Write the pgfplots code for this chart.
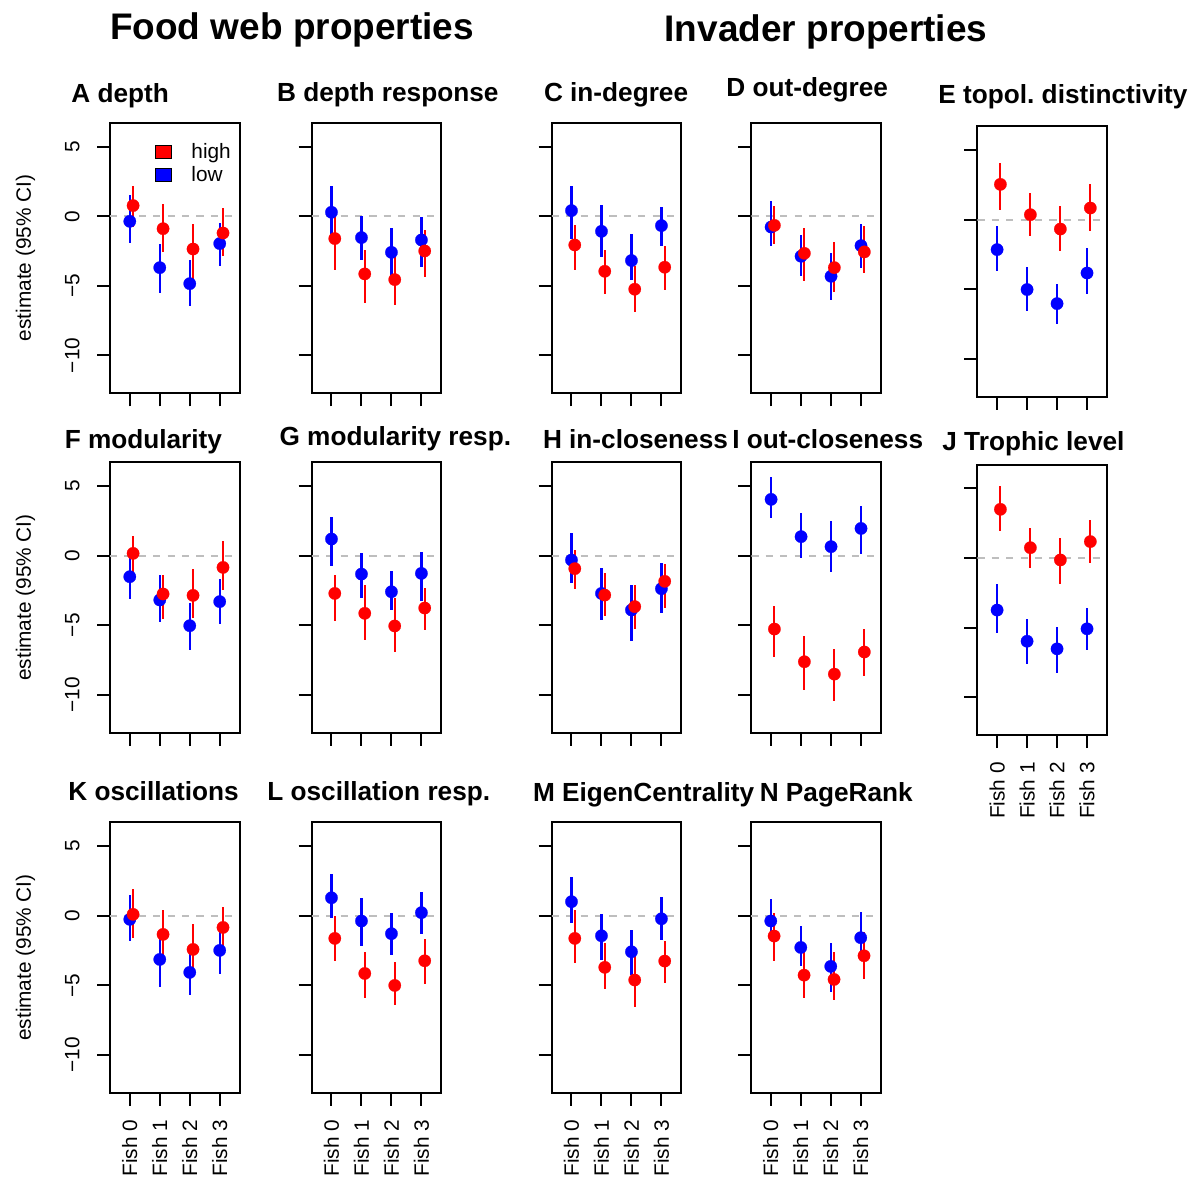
\documentclass[border=0pt]{standalone}
\usepackage{fontspec}
\setmainfont{Liberation Sans}
\setsansfont{Liberation Sans}
\usepackage{pgfplots}
\usepackage{pgfplotstable}
\pgfplotsset{compat=1.18}
\definecolor{zgray}{RGB}{190,190,190}
\frenchspacing

% columns: x, low (mean, lower, upper), high (mean, lower, upper)
\pgfplotstableread{
x lm ll lh hm hl hh
1 -0.36 -1.92 1.56 0.77 -0.77 2.20
2 -3.69 -5.51 -1.96 -0.89 -2.59 0.89
3 -4.84 -6.47 -3.11 -2.35 -4.55 -0.55
4 -1.96 -3.59 -0.48 -1.20 -2.87 0.60
}\tA
\pgfplotstableread{
x lm ll lh hm hl hh
1 0.29 -1.32 2.20 -1.60 -3.88 0.19
2 -1.53 -3.11 0.05 -4.14 -6.23 -2.44
3 -2.59 -4.26 -0.84 -4.55 -6.35 -2.83
4 -1.70 -3.64 -0.05 -2.49 -4.36 -1.01
}\tB
\pgfplotstableread{
x lm ll lh hm hl hh
1 0.41 -1.63 2.20 -2.06 -3.88 -0.60
2 -1.08 -2.92 0.79 -3.95 -5.56 -2.40
3 -3.18 -4.55 -1.25 -5.24 -6.90 -3.59
4 -0.67 -2.16 0.69 -3.66 -5.32 -2.11
}\tC
\pgfplotstableread{
x lm ll lh hm hl hh
1 -0.77 -2.11 1.08 -0.65 -1.99 0.72
2 -2.87 -4.31 -1.32 -2.66 -4.67 -0.84
3 -4.31 -5.99 -2.63 -3.69 -5.46 -1.87
4 -2.11 -3.71 -0.53 -2.56 -4.07 -0.72
}\tD
\pgfplotstableread{
x lm ll lh hm hl hh
1 -2.15 -3.71 -0.43 2.54 0.72 4.11
2 -5.02 -6.58 -3.40 0.36 -1.20 1.91
3 -6.03 -7.49 -4.59 -0.67 -2.27 0.96
4 -3.83 -5.33 -2.03 0.84 -0.84 2.58
}\tE
\pgfplotstableread{
x lm ll lh hm hl hh
1 -1.51 -3.11 0.05 0.17 -1.63 1.41
2 -3.18 -4.74 -1.39 -2.75 -4.57 -1.39
3 -5.03 -6.78 -3.42 -2.85 -4.50 -0.98
4 -3.30 -4.91 -1.70 -0.84 -2.47 1.05
}\tF
\pgfplotstableread{
x lm ll lh hm hl hh
1 1.20 -0.74 2.80 -2.71 -4.67 -1.41
2 -1.32 -3.02 0.17 -4.14 -6.06 -2.11
3 -2.59 -3.90 -1.10 -5.05 -6.90 -3.07
4 -1.27 -3.26 0.29 -3.76 -5.34 -2.35
}\tG
\pgfplotstableread{
x lm ll lh hm hl hh
1 -0.31 -1.99 1.60 -0.93 -2.39 0.41
2 -2.71 -4.62 -0.91 -2.83 -4.33 -1.27
3 -3.90 -6.11 -2.11 -3.66 -5.29 -2.11
4 -2.37 -4.09 -0.55 -1.84 -3.78 -0.60
}\tH
\pgfplotstableread{
x lm ll lh hm hl hh
1 4.05 2.68 5.63 -5.27 -7.30 -3.62
2 1.37 -0.14 3.04 -7.62 -9.65 -5.75
3 0.65 -1.15 2.49 -8.51 -10.45 -6.69
4 1.96 0.12 3.57 -6.92 -8.62 -5.29
}\tI
\pgfplotstableread{
x lm ll lh hm hl hh
1 -3.74 -5.42 -1.87 3.50 1.97 5.14
2 -5.98 -7.63 -4.39 0.74 -0.74 2.14
3 -6.53 -8.26 -4.99 -0.14 -1.90 1.42
4 -5.09 -6.58 -3.62 1.18 -0.34 2.74
}\tJ
\pgfplotstableread{
x lm ll lh hm hl hh
1 -0.26 -1.82 1.49 0.10 -1.63 1.92
2 -3.14 -5.10 -1.50 -1.34 -3.14 0.41
3 -4.07 -5.70 -2.59 -2.42 -4.15 -0.60
4 -2.49 -4.22 -0.91 -0.84 -2.47 0.65
}\tK
\pgfplotstableread{
x lm ll lh hm hl hh
1 1.29 -0.19 2.97 -1.63 -3.26 0.00
2 -0.38 -2.16 1.25 -4.15 -5.92 -2.59
3 -1.29 -2.83 0.17 -5.01 -6.45 -3.35
4 0.22 -1.32 1.73 -3.24 -4.91 -1.68
}\tL
\pgfplotstableread{
x lm ll lh hm hl hh
1 1.01 -0.50 2.80 -1.63 -3.38 0.41
2 -1.44 -3.19 0.10 -3.71 -5.27 -1.99
3 -2.59 -4.27 -1.03 -4.62 -6.59 -2.71
4 -0.22 -1.75 1.32 -3.26 -4.82 -1.82
}\tM
\pgfplotstableread{
x lm ll lh hm hl hh
1 -0.38 -1.27 1.17 -1.46 -3.24 0.17
2 -2.28 -3.59 -0.74 -4.27 -5.94 -2.23
3 -3.64 -5.51 -1.94 -4.58 -6.06 -2.59
4 -1.58 -2.66 0.24 -2.88 -4.58 -1.15
}\tN

\newcommand{\regfont}{\fontsize{10.4}{12.5}\selectfont}
\newcommand{\titfont}{\fontsize{13.1}{15.5}\selectfont\bfseries}

\pgfplotsset{
  panel/.style={
    scale only axis, width=64.75pt, height=135.25pt, anchor=south west,
    xmin=0.34, xmax=4.66, ymin=-12.72, ymax=6.72,
    axis line style={line width=1pt},
    xtick={1,2,3,4}, ytick={-10,-5,0,5},
    xtick pos=left, ytick pos=left,
    tick align=outside, major tick length=6.5pt,
    tick style={line width=1pt, black},
    xticklabels={}, yticklabels={},
  },
  ylab/.style={
    yticklabels={−10,−5,0,5},
    yticklabel style={font=\regfont, inner sep=0pt, xshift=-8.5pt, rotate=90, anchor=south},
  },
  xlab/.style={
    xticklabels={Fish 0,Fish 1,Fish 2,Fish 3},
    xticklabel style={font=\regfont, inner sep=0pt, yshift=-6.85pt, rotate=90, anchor=east},
  },
}

\newcommand{\panelplots}[1]{%
  \addplot[zgray, line width=0.9pt, dash pattern=on 3.6pt off 3.6pt, forget plot] coordinates {(0.34,0) (4.66,0)};
  \addplot[blue, only marks, mark=*, mark size=3.1pt, mark options={solid, fill=blue, draw=blue, line width=0.1pt}, forget plot,
    error bars/.cd, y dir=both, y explicit, error mark=none, error bar style={line width=1.1pt, blue}]
    table[x=x, y=lm, y error plus expr={\thisrow{lh}-\thisrow{lm}}, y error minus expr={\thisrow{lm}-\thisrow{ll}}] {#1};
  \addplot[red, only marks, mark=*, mark size=3.1pt, mark options={solid, fill=red, draw=red, line width=0.1pt}, forget plot,
    error bars/.cd, y dir=both, y explicit, error mark=none, error bar style={line width=1.1pt, red}]
    table[x expr={\thisrow{x}+0.11}, y=hm, y error plus expr={\thisrow{hh}-\thisrow{hm}}, y error minus expr={\thisrow{hm}-\thisrow{hl}}] {#1};
}

\newcommand{\panel}[3]{%
  \begin{axis}[panel, at={#1}, #3]
    \panelplots{#2}
  \end{axis}}

\begin{document}
\begin{tikzpicture}
\useasboundingbox (0,0) rectangle (596.5pt,-588.5pt);

% Row 1
\begin{axis}[panel, at={(55pt,-196.65pt)}, ylab,
  legend style={at={(0.342,0.926)}, anchor=north west, draw=none, fill=none, inner sep=0pt,
    font=\regfont, row sep=2.5pt, column sep=9.6pt, nodes={inner sep=0pt}},
  legend cell align=left,
  legend image code/.code={\draw[#1, line width=0.6pt] (0pt,-3.25pt) rectangle (8.2pt,3.25pt);}]
  \panelplots{\tA}
  \addlegendimage{fill=red, draw=black}
  \addlegendentry{high}
  \addlegendimage{fill=blue, draw=black}
  \addlegendentry{low}
\end{axis}
\panel{(155.85pt,-196.65pt)}{\tB}{}
\panel{(275.85pt,-196.65pt)}{\tC}{}
\panel{(375.65pt,-196.65pt)}{\tD}{}
\panel{(488.65pt,-198.35pt)}{\tE}{}
% Row 2
\panel{(55pt,-366.35pt)}{\tF}{ylab}
\panel{(155.85pt,-366.35pt)}{\tG}{}
\panel{(275.85pt,-366.35pt)}{\tH}{}
\panel{(375.65pt,-366.35pt)}{\tI}{}
\panel{(488.65pt,-367.5pt)}{\tJ}{xlab}
% Row 3
\panel{(55pt,-546.35pt)}{\tK}{ylab, xlab}
\panel{(155.85pt,-546.35pt)}{\tL}{xlab}
\panel{(275.85pt,-546.35pt)}{\tM}{xlab}
\panel{(375.5pt,-546.35pt)}{\tN}{xlab}

% Main titles
\node[font=\fontsize{18.5}{22}\selectfont\bfseries, anchor=base] at (146pt,-20pt) {Food web properties};
\node[font=\fontsize{18.5}{22}\selectfont\bfseries, anchor=base] at (413pt,-21pt) {Invader properties};

% Panel titles
\begin{scope}[every node/.style={font=\titfont, anchor=base west, inner sep=0pt}]
\node at (35.5pt,-51.35pt) {A depth};
\node at (138.4pt,-50.85pt) {B depth response};
\node at (271.8pt,-50.85pt) {C in-degree};
\node at (363pt,-48.35pt) {D out-degree};
\node at (469pt,-51.65pt) {E topol. distinctivity};
\node at (32.2pt,-224.15pt) {F modularity};
\node at (139.6pt,-222.5pt) {G modularity resp.};
\node at (271.3pt,-224.15pt) {H in-closeness};
\node at (366pt,-224.15pt) {I out-closeness};
\node at (471pt,-225pt) {J Trophic level};
\node at (34pt,-400.35pt) {K oscillations};
\node at (133.5pt,-400.35pt) {L oscillation resp.};
\node at (266.3pt,-400.85pt) {M EigenCentrality};
\node at (379.7pt,-400.85pt) {N PageRank};
\end{scope}

% y labels
\begin{scope}[every node/.style={font=\regfont, rotate=90, anchor=base, inner sep=0pt}]
\node at (15.5pt,-129pt) {estimate (95\% CI)};
\node at (15.5pt,-298.75pt) {estimate (95\% CI)};
\node at (15.5pt,-478.75pt) {estimate (95\% CI)};
\end{scope}
\end{tikzpicture}
\end{document}
